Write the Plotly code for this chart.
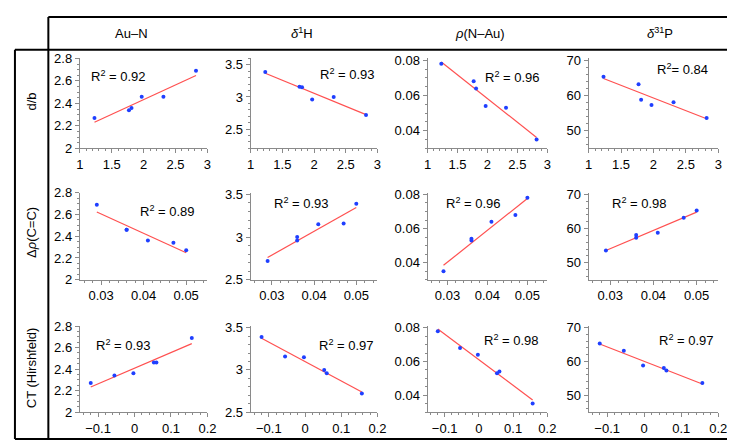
import numpy as np
import plotly.graph_objects as go

W, H = 735, 442

# ---- data (6 compounds) ----
db = [1.23, 1.77, 1.81, 1.97, 2.31, 2.82]
drho = [0.050, 0.047, 0.041, 0.036, 0.036, 0.029]
ct = [-0.12, -0.055, -0.003, 0.060, 0.053, 0.157]
au_n = [2.27, 2.34, 2.36, 2.46, 2.46, 2.69]
h1 = [3.39, 3.16, 3.15, 2.96, 3.00, 2.72]
rho_nau = [0.078, 0.068, 0.064, 0.054, 0.053, 0.035]
p31 = [65.3, 63.2, 58.8, 57.3, 58.1, 53.6]

row_labels = ["d/b", "Δ<i>ρ</i>(C=C)", "CT (Hirshfeld)"]
col_labels = ["Au–N", "<i>δ</i><sup>1</sup>H", "<i>ρ</i>(N–Au)", "<i>δ</i><sup>31</sup>P"]
r2_labels = [
    ["R<sup>2</sup> = 0.92", "R<sup>2</sup> = 0.93", "R<sup>2</sup> = 0.96", "R<sup>2</sup>= 0.84"],
    ["R<sup>2</sup> = 0.89", "R<sup>2</sup> = 0.93", "R<sup>2</sup> = 0.96", "R<sup>2</sup> = 0.98"],
    ["R<sup>2</sup> = 0.93", "R<sup>2</sup> = 0.97", "R<sup>2</sup> = 0.98", "R<sup>2</sup> = 0.97"],
]

xs = [db, drho, ct]
ys = [au_n, h1, rho_nau, p31]

# ---- layout geometry (pixels) ----
col_px = [(69, 199), (243, 372), (423, 545), (587, 719)]
row_px = [(45, 138), (184, 274), (322, 411)]
x_ranges = [[1, 3], [0.025, 0.055], [-0.15, 0.2]]
x_dtick = [0.5, 0.01, 0.1]
x_minor = [0.1, 0.002, 0.02]
y_ranges = [
    [[2, 2.8], [2.2, 3.6], [0.03, 0.081], [45, 70.5]],
    [[2, 2.8], [2.5, 3.52], [0.03, 0.081], [45, 70.5]],
    [[2, 2.8], [2.5, 3.52], [0.03, 0.081], [45, 70.5]],
]
y_dtick = [0.2, 0.5, 0.02, 10]
y_minor = [0.05, 0.1, 0.005, 2]
r2_pos = [
    [(108, 63), (342, 61), (510, 64), (683, 56)],
    [(158, 203), (295, 195), (470, 195), (639, 195)],
    [(113, 342), (341, 342), (508, 336), (687, 336)],
]

FAM = "Arial, Liberation Sans, sans-serif"
font = dict(family=FAM, size=13, color="black")
axcol = "#8a8a8a"

fig = go.Figure()
annotations = []
idx = 0
for r in range(3):
    for c in range(4):
        idx += 1
        xa = "x" if idx == 1 else f"x{idx}"
        ya = "y" if idx == 1 else f"y{idx}"
        xk = "xaxis" if idx == 1 else f"xaxis{idx}"
        yk = "yaxis" if idx == 1 else f"yaxis{idx}"
        x = np.array(xs[r]); y = np.array(ys[c])
        m, b = np.polyfit(x, y, 1)
        xl = np.array([x.min(), x.max()])
        fig.add_trace(go.Scatter(x=xl, y=m * xl + b, mode="lines",
                                 line=dict(color="#ff5050", width=1.2),
                                 xaxis=xa, yaxis=ya, showlegend=False))
        fig.add_trace(go.Scatter(x=x, y=y, mode="markers",
                                 marker=dict(color="#1f3fff", size=4),
                                 xaxis=xa, yaxis=ya, showlegend=False))
        x0, x1 = col_px[c]; y0, y1 = row_px[r]
        fig.layout[xk] = dict(domain=[x0 / W, x1 / W], range=x_ranges[r], anchor=ya,
                              showgrid=False, zeroline=False, showline=True,
                              linecolor=axcol, linewidth=1, ticks="outside",
                              ticklen=4, tickcolor=axcol, dtick=x_dtick[r], tick0=0,
                              tickfont=font,
                              minor=dict(ticks="outside", ticklen=2, tickcolor=axcol,
                                         dtick=x_minor[r], showgrid=False))
        fig.layout[yk] = dict(domain=[1 - y1 / H, 1 - y0 / H], range=y_ranges[r][c], anchor=xa,
                              showgrid=False, zeroline=False, showline=True,
                              linecolor=axcol, linewidth=1, ticks="outside",
                              ticklen=4, tickcolor=axcol, dtick=y_dtick[c], tick0=0,
                              tickfont=font,
                              minor=dict(ticks="outside", ticklen=2, tickcolor=axcol,
                                         dtick=y_minor[c], showgrid=False))
        px_, py_ = r2_pos[r][c]
        annotations.append(dict(x=px_ / W, y=1 - py_ / H, xref="paper", yref="paper",
                                text=r2_labels[r][c], showarrow=False, font=font,
                                xanchor="center", yanchor="middle"))

hdr_font = dict(family=FAM, size=13, color="black")
hdr_x = [122, 295, 476, 660]
for t, hx in zip(col_labels, hdr_x):
    annotations.append(dict(x=hx / W, y=1 - 19 / H, xref="paper", yref="paper", text=t,
                            showarrow=False, font=hdr_font,
                            xanchor="center", yanchor="middle"))
row_y = [90, 225, 365]
for t, ry in zip(row_labels, row_y):
    annotations.append(dict(x=20 / W, y=1 - ry / H, xref="paper", yref="paper", text=t,
                            showarrow=False, textangle=-90, font=hdr_font,
                            xanchor="center", yanchor="middle"))

def line(xa, ya, xb, yb):
    return dict(type="line", xref="paper", yref="paper", x0=xa / W, y0=1 - ya / H,
                x1=xb / W, y1=1 - yb / H, line=dict(color="black", width=2))

shapes = [
    line(37, 2, 733, 2),
    line(37, 2, 37, 439),
    line(733, 2, 733, 439),
    line(3, 36, 733, 36),
    line(3, 36, 3, 439),
    line(3, 439, 733, 439),
]

fig.update_layout(width=W, height=H, margin=dict(l=0, r=0, t=0, b=0),
                  paper_bgcolor="white", plot_bgcolor="white",
                  annotations=annotations, shapes=shapes, font=font)
fig.write_html("out.html")
